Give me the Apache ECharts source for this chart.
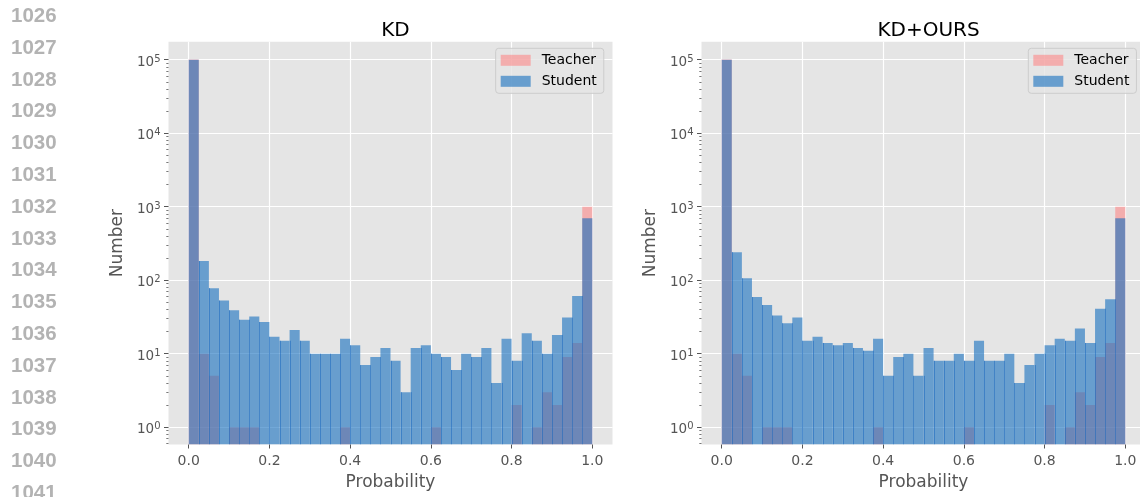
<!DOCTYPE html>
<html>
<head>
<meta charset="utf-8">
<script src="https://cdn.jsdelivr.net/npm/echarts@6/dist/echarts.min.js"></script>
<style>
html,body{margin:0;padding:0;background:#ffffff;}
#chart{width:1140px;height:497px;}
</style>
</head>
<body>
<div id="chart"></div>
<script>
// ---------------- data ----------------
const panelTitles = ['KD', 'KD+OURS'];
const seriesNames = ['Teacher', 'Student'];
const binEdges = [0, 0.025, 0.05, 0.075, 0.1, 0.125, 0.15, 0.175, 0.2, 0.225,
  0.25, 0.275, 0.3, 0.325, 0.35, 0.375, 0.4, 0.425, 0.45, 0.475,
  0.5, 0.525, 0.55, 0.575, 0.6, 0.625, 0.65, 0.675, 0.7, 0.725,
  0.75, 0.775, 0.8, 0.825, 0.85, 0.875, 0.9, 0.925, 0.95, 0.975, 1];
const teacherCounts = [100500, 10, 5, 0, 1, 1, 1, 0, 0, 0,
  0, 0, 0, 0, 0, 1, 0, 0, 0, 0,
  0, 0, 0, 0, 1, 0, 0, 0, 0, 0,
  0, 0, 2, 0, 1, 3, 2, 9, 14, 1000];
const studentKD = [100000, 182, 78, 53, 39, 29, 32, 27, 17, 15,
  21, 15, 10, 10, 10, 16, 13, 7, 9, 12,
  8, 3, 12, 13, 10, 9, 6, 10, 9, 12,
  4, 16, 8, 19, 15, 10, 18, 31, 61, 695];
const studentOurs = [100000, 241, 106, 59, 46, 33, 26, 31, 15, 17,
  14, 13, 14, 12, 11, 16, 5, 9, 10, 5,
  12, 8, 8, 10, 8, 15, 8, 8, 10, 4,
  7, 10, 13, 16, 15, 22, 14, 41, 55, 695];
const xTickValues = [0, 0.2, 0.4, 0.6, 0.8, 1.0];
const yTickPowers = [0, 1, 2, 3, 4, 5];
const yMinorMantissas = [2, 3, 4, 5, 6, 7, 8, 9];
const lineNumbers = ['1026','1027','1028','1029','1030','1031','1032','1033','1034','1035','1036','1037','1038','1039','1040','1041'];

// ---------------- styles / layout ----------------
const TEACHER_COLOR = 'rgba(255,128,128,0.55)';
const STUDENT_COLOR = 'rgba(20,110,190,0.6)';
const EDGE_COLOR = 'rgba(20,100,190,0.5)';
const GRAY = '#555555';
const Y_MIN = -0.235, Y_MAX = 5.245;   // log10 range of the plot
const X_MIN = -0.05, X_MAX = 1.05;
const panels = [
  { left: 168.5, legendLeft: 495.7 },
  { left: 701.5, legendLeft: 1028.3 }
];
const GRID_TOP = 41.7, GRID_H = 402.8, GRID_W = 444;

const minorTicks = [];
for (let p = -1; p <= 5; p++) {
  yMinorMantissas.forEach(m => {
    const v = Math.log10(m) + p;
    if (v > Y_MIN && v < Y_MAX) minorTicks.push(v);
  });
}

function toLog(c) { return c > 0 ? Math.log10(c) : '-'; }

function histSeries(name, counts, color, panel, withEdges) {
  const data = counts.map((c, i) => [binEdges[i], binEdges[i + 1], toLog(c),
    i > 0 ? toLog(counts[i - 1]) : '-']);
  return {
    type: 'custom',
    name: name,
    xAxisIndex: panel,
    yAxisIndex: panel * 2,
    itemStyle: { color: color },
    encode: { x: [0, 1], y: 2 },
    clip: true,
    silent: true,
    data: data,
    renderItem: function (params, api) {
      const v = api.value(2);
      if (v === '-' || v == null || isNaN(v)) return null;
      const x0 = api.value(0), x1 = api.value(1);
      const cs = params.coordSys;
      const bottom = cs.y + cs.height;
      const pL = api.coord([x0, v]);
      const pR = api.coord([x1, v]);
      const children = [{
        type: 'rect',
        shape: { x: pL[0], y: pL[1], width: pR[0] - pL[0], height: bottom - pL[1] },
        style: { fill: api.visual('color') }
      }];
      const prev = api.value(3);
      if (withEdges && !(prev === '-' || prev == null || isNaN(prev))) {
        const h = Math.min(prev, v);
        const pe = api.coord([x0, h]);
        const xe = Math.round(pL[0]) + 0.5;
        children.push({
          type: 'line',
          shape: { x1: xe, y1: bottom, x2: xe, y2: pe[1] },
          style: { stroke: EDGE_COLOR, lineWidth: 1 }
        });
      }
      return { type: 'group', children: children };
    }
  };
}

const grids = [], xAxes = [], yAxes = [], series = [], titles = [], legends = [];
const studentSets = [studentKD, studentOurs];

panels.forEach((p, i) => {
  grids.push({
    left: p.left, top: GRID_TOP, width: GRID_W, height: GRID_H,
    show: true, backgroundColor: '#E5E5E5', borderWidth: 0,
    containLabel: false, outerBoundsMode: 'none'
  });
  xAxes.push({
    type: 'value', gridIndex: i, min: X_MIN, max: X_MAX, position: 'bottom',
    name: 'Probability', nameLocation: 'middle', nameGap: 30,
    nameTextStyle: { color: GRAY, fontSize: 17, fontFamily: 'DejaVu Sans' },
    axisLine: { show: false, onZero: false },
    axisTick: { show: true, inside: false, length: 4, customValues: xTickValues,
      lineStyle: { color: GRAY, width: 1 } },
    axisLabel: { show: true, customValues: xTickValues, margin: 10,
      color: GRAY, fontSize: 14, fontFamily: 'DejaVu Sans',
      formatter: v => Number(v).toFixed(1) },
    splitLine: { show: true, lineStyle: { color: '#FFFFFF', width: 1.2 } }
  });
  yAxes.push({
    type: 'value', gridIndex: i, min: Y_MIN, max: Y_MAX, position: 'left',
    name: 'Number', nameLocation: 'middle', nameGap: 42, nameRotate: 90,
    nameTextStyle: { color: GRAY, fontSize: 17, fontFamily: 'DejaVu Sans' },
    axisLine: { show: false, onZero: false },
    axisTick: { show: true, inside: false, length: 4.5, customValues: yTickPowers,
      lineStyle: { color: GRAY, width: 1 } },
    axisLabel: { show: true, customValues: yTickPowers, margin: 8,
      formatter: v => '{b|10}{s|' + Math.round(v) + '}',
      rich: {
        b: { color: GRAY, fontSize: 13.5, fontFamily: 'DejaVu Sans', lineHeight: 16, padding: [5, 0, 0, 0] },
        s: { color: GRAY, fontSize: 10, fontFamily: 'DejaVu Sans', lineHeight: 6, padding: [2.5, 0, 0, 0], verticalAlign: 'top' }
      } },
    splitLine: { show: true, lineStyle: { color: '#FFFFFF', width: 1.2 } }
  });
  yAxes.push({
    type: 'value', gridIndex: i, min: Y_MIN, max: Y_MAX, position: 'left', offset: 0,
    axisLine: { show: false, onZero: false },
    axisTick: { show: true, inside: false, length: 2.2, customValues: minorTicks,
      lineStyle: { color: GRAY, width: 0.8 } },
    axisLabel: { show: false },
    splitLine: { show: false }
  });
  series.push(histSeries(seriesNames[0], teacherCounts, TEACHER_COLOR, i, false));
  series.push(histSeries(seriesNames[1], studentSets[i], STUDENT_COLOR, i, true));
  titles.push({
    text: panelTitles[i], left: p.left + GRID_W / 2, top: 16, textAlign: 'center',
    textStyle: { color: '#000000', fontSize: 20, fontWeight: 'normal', fontFamily: 'DejaVu Sans' }
  });
  legends.push({
    data: seriesNames, orient: 'vertical', left: p.legendLeft, top: 48.3,
    icon: 'rect', itemWidth: 30, itemHeight: 11, itemGap: 7,
    padding: [5, 7, 5, 5],
    backgroundColor: 'rgba(229,229,229,0.8)', borderColor: '#CCCCCC', borderWidth: 1, borderRadius: 3,
    selectedMode: false,
    textStyle: { color: '#000000', fontSize: 14, fontFamily: 'DejaVu Sans', padding: [0, 0, 0, 6] }
  });
});

const graphics = lineNumbers.map((t, k) => ({
  type: 'text', left: 11, top: 15.3 + 31.8 * k - 9.5,
  style: { text: t, fill: '#B3B3B3', font: 'bold 20.5px "Liberation Sans", Arial, sans-serif' },
  silent: true
}));

const chart = echarts.init(document.getElementById('chart'), null, { renderer: 'canvas' });
chart.setOption({
  backgroundColor: '#FFFFFF',
  animation: false,
  title: titles,
  legend: legends,
  grid: grids,
  xAxis: xAxes,
  yAxis: yAxes,
  series: series,
  graphic: graphics
});
</script>
</body>
</html>
